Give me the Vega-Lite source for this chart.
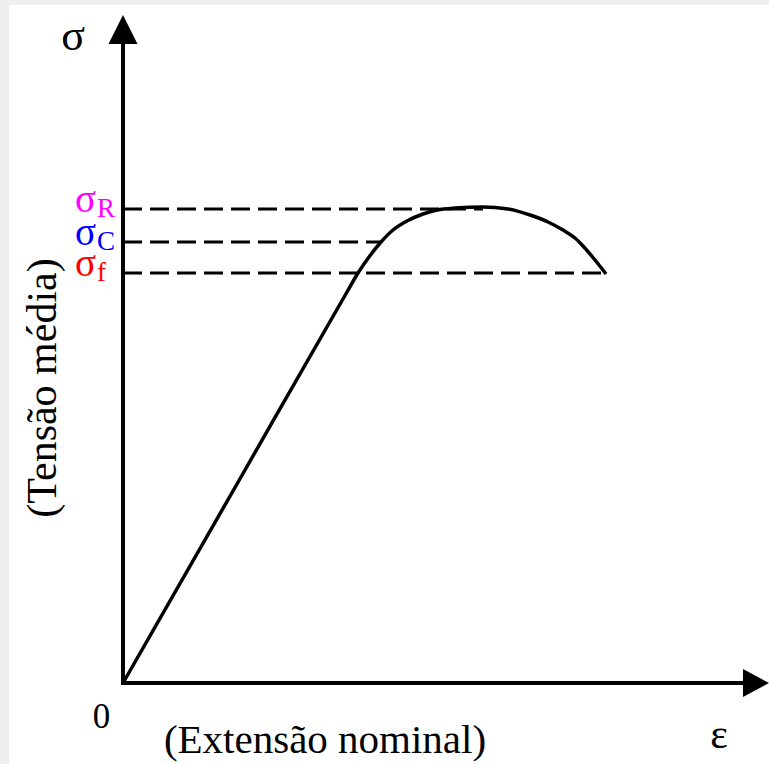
{
  "$schema": "https://vega.github.io/schema/vega-lite/v6.json",
  "width": 760,
  "height": 759,
  "padding": {"left": 9, "top": 5, "right": 0, "bottom": 0},
  "autosize": {"type": "none"},
  "background": "#efefef",
  "config": {"view": {"fill": "white", "stroke": null}},
  "datasets": {
    "curve": [
      {"e": 0, "s": 0},
      {"e": 11.4, "s": 19.9},
      {"e": 22.4, "s": 39.1},
      {"e": 23.5, "s": 41.0},
      {"e": 24.6, "s": 42.6},
      {"e": 25.8, "s": 44.1},
      {"e": 27.0, "s": 45.3},
      {"e": 28.4, "s": 46.2},
      {"e": 30.0, "s": 46.9},
      {"e": 31.4, "s": 47.3},
      {"e": 33.2, "s": 47.5},
      {"e": 36.0, "s": 47.6},
      {"e": 38.5, "s": 47.4},
      {"e": 40.7, "s": 46.8},
      {"e": 42.5, "s": 46.1},
      {"e": 44.0, "s": 45.3},
      {"e": 45.2, "s": 44.5},
      {"e": 46.0, "s": 43.7},
      {"e": 47.2, "s": 42.3},
      {"e": 48.3, "s": 40.9}
    ],
    "levels": [
      {"name": "R", "e": 0, "s": 47.4, "e_end": 36.0},
      {"name": "C", "e": 0, "s": 44.1, "e_end": 25.8},
      {"name": "f", "e": 0, "s": 41.0, "e_end": 48.3}
    ],
    "axes": [
      {"e": 0, "s": 0, "e2": 62.0, "s2": 0},
      {"e": 0, "s": 0, "e2": 0, "s2": 64.0}
    ]
  },
  "encoding": {
    "x": {"field": "e", "type": "quantitative", "scale": {"domain": [-11.4, 64.6], "nice": false, "zero": false}, "axis": null},
    "y": {"field": "s", "type": "quantitative", "scale": {"domain": [-8.1, 67.8], "nice": false, "zero": false}, "axis": null}
  },
  "layer": [
    {
      "data": {"name": "levels"},
      "mark": {"type": "rule", "color": "black", "strokeWidth": 3, "strokeDash": [19, 8]},
      "encoding": {
        "x2": {"field": "e_end"}
      }
    },
    {
      "data": {"name": "axes"},
      "mark": {"type": "rule", "color": "black", "strokeWidth": 4, "strokeCap": "square"},
      "encoding": {
        "x2": {"field": "e2"},
        "y2": {"field": "s2"}
      }
    },
    {
      "data": {"values": [{"e": 63.3, "s": 0}]},
      "mark": {"type": "point", "shape": "M0.93,0L-0.93,-1L-0.93,1Z", "size": 784, "filled": true, "color": "black", "opacity": 1, "strokeWidth": 0}
    },
    {
      "data": {"values": [{"e": 0, "s": 65.35}]},
      "mark": {"type": "point", "shape": "M0,-1L1,1L-1,1Z", "size": 841, "filled": true, "color": "black", "opacity": 1, "strokeWidth": 0}
    },
    {
      "data": {"name": "curve"},
      "mark": {"type": "line", "color": "black", "strokeWidth": 3.5, "interpolate": "monotone", "strokeJoin": "round"},
      "encoding": {"order": {"field": "e", "type": "quantitative"}}
    },
    {
      "data": {"name": "levels"},
      "mark": {"type": "text", "text": "σ", "font": "Liberation Serif", "fontSize": 39, "align": "right", "baseline": "middle", "dx": -27, "dy": -9},
      "encoding": {
        "color": {"field": "name", "type": "nominal", "scale": {"domain": ["R", "C", "f"], "range": ["#ff00ff", "#0000ff", "#ff0000"]}, "legend": null}
      }
    },
    {
      "data": {"name": "levels"},
      "mark": {"type": "text", "font": "Liberation Serif", "fontSize": 27, "align": "left", "baseline": "middle", "dx": -26},
      "encoding": {
        "text": {"field": "name"},
        "color": {"field": "name", "type": "nominal", "scale": {"domain": ["R", "C", "f"], "range": ["#ff00ff", "#0000ff", "#ff0000"]}, "legend": null}
      }
    },
    {
      "data": {"values": [{"e": -5.0, "s": 63.3, "label": "σ"}]},
      "mark": {"type": "text", "font": "Liberation Serif", "fontSize": 44, "align": "center", "baseline": "alphabetic", "color": "black"},
      "encoding": {"text": {"field": "label"}}
    },
    {
      "data": {"values": [{"e": -2.15, "s": -4.5, "label": "0"}]},
      "mark": {"type": "text", "font": "Liberation Serif", "fontSize": 35, "align": "center", "baseline": "alphabetic", "color": "black"},
      "encoding": {"text": {"field": "label"}}
    },
    {
      "data": {"values": [{"e": 59.6, "s": -6.5, "label": "ε"}]},
      "mark": {"type": "text", "font": "Liberation Serif", "fontSize": 42, "align": "center", "baseline": "alphabetic", "color": "black"},
      "encoding": {"text": {"field": "label"}}
    },
    {
      "data": {"values": [{"e": 20.2, "s": -7.0, "label": "(Extensão nominal)"}]},
      "mark": {"type": "text", "font": "Liberation Serif", "fontSize": 41, "align": "center", "baseline": "alphabetic", "color": "black"},
      "encoding": {"text": {"field": "label"}}
    },
    {
      "data": {"values": [{"e": -6.7, "s": 29.5, "label": "(Tensão média)"}]},
      "mark": {"type": "text", "font": "Liberation Serif", "fontSize": 42, "align": "center", "baseline": "alphabetic", "angle": 270, "color": "black"},
      "encoding": {"text": {"field": "label"}}
    }
  ]
}
